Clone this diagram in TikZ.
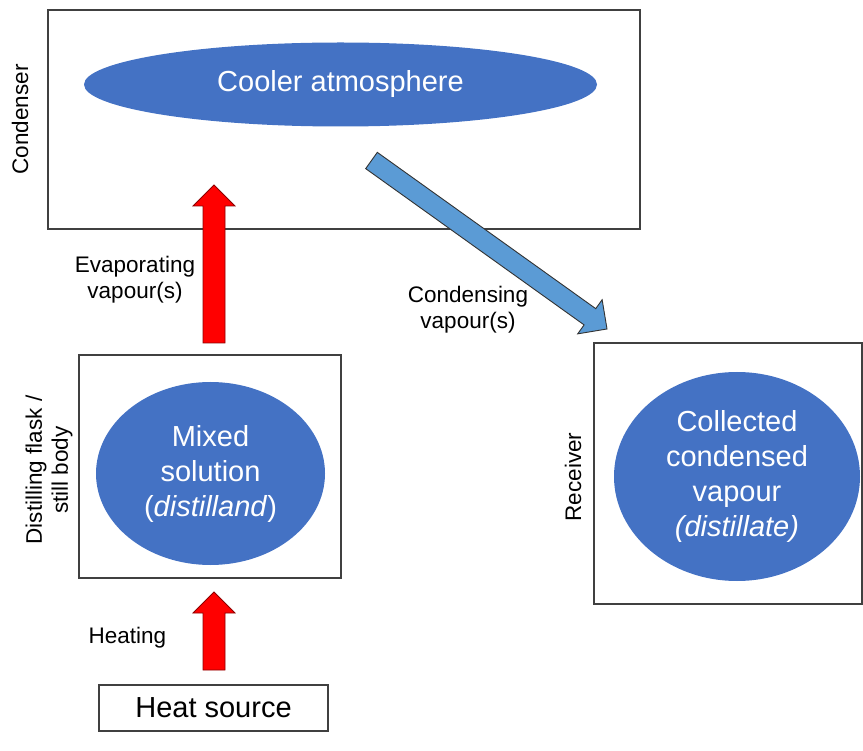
\documentclass[tikz,border=0pt]{standalone}
\usepackage{fontspec}
\setmainfont{Liberation Sans}
\usetikzlibrary{calc,shapes.geometric}
\definecolor{blobblue}{HTML}{4472C4}
\definecolor{flowblue}{HTML}{5B9BD5}
\definecolor{heatred}{HTML}{FF0000}
% block arrow: style, half shaft width, from, to
\newcommand{\blockarrow}[4]{%
  \coordinate (ba-h) at ($(#4)!21pt!(#3)$);
  \draw[#1] ($(#3)!#2!90:(#4)$) -- ($(ba-h)!#2!90:(#4)$)
    -- ($(ba-h)!21pt!90:(#4)$) -- (#4) -- ($(ba-h)!21pt!-90:(#4)$)
    -- ($(ba-h)!#2!-90:(#4)$) -- ($(#3)!#2!-90:(#4)$) -- cycle;
}

\begin{document}
\begin{tikzpicture}[
  x=1pt, y=-1pt,
  box/.style={draw=black!75, line width=1.1pt, inner sep=0pt},
  blob/.style={ellipse, fill=blobblue, text=white, align=center, inner sep=0pt,
               font=\fontsize{29}{35}\selectfont},
  lbl/.style={align=center, font=\fontsize{22.5}{26}\selectfont},
  side/.style={lbl, rotate=90},
  hotflow/.style={fill=heatred, draw=red!55!black, line width=0.8pt},
  coldflow/.style={fill=flowblue, draw=black!80, line width=0.9pt}
]
  \useasboundingbox (0,0) rectangle (863,751);
  % condenser
  \node[box, minimum width=592pt, minimum height=219pt] (condenser) at (344,119.5) {};
  \node[blob, minimum width=513pt, minimum height=84pt] (cooler) at (340.5,84.5) {Cooler atmosphere};
  \node[side] (condlbl) at (20,119.5) {Condenser};
  % distilling flask
  \node[box, minimum width=262pt, minimum height=223pt] (flask) at (210,466.5) {};
  \node[blob, minimum width=229pt, minimum height=183pt] (mixed) at (210.5,473.5)
    {Mixed\\solution\\(\textit{distilland})};
  \node[side] (flasklbl) at (49,470) {Distilling flask /\\still body};
  % receiver
  \node[box, minimum width=268pt, minimum height=261pt] (receiver) at (728,473.5) {};
  \node[blob, minimum width=246pt, minimum height=209pt] (collected) at (737,476.5)
    {Collected\\condensed\\vapour\\\textit{(distillate)}};
  \node[side] (reclbl) at (573,477) {Receiver};
  % heat source
  \node[box, minimum width=229pt, minimum height=46pt, font=\fontsize{29}{35}\selectfont]
    (heat) at (213.5,708) {Heat source};
  % flows
  \coordinate (heat-out) at (214,670);
  \coordinate (flask-in) at (214,592);
  \coordinate (flask-out) at (214,343);
  \coordinate (cond-in) at (214,185);
  \coordinate (cond-out) at (371.5,160.5);
  \coordinate (rec-in) at (607,329);
  \blockarrow{hotflow}{11pt}{heat-out}{flask-in}
  \blockarrow{hotflow}{11pt}{flask-out}{cond-in}
  \blockarrow{coldflow}{10pt}{cond-out}{rec-in}
  \node[lbl] (heatlbl) at (127.5,638) {Heating};
  \node[lbl] (evaplbl) at (135,280) {Evaporating\\vapour(s)};
  \node[lbl] (condslbl) at (468,310) {Condensing\\vapour(s)};
\end{tikzpicture}
\end{document}
